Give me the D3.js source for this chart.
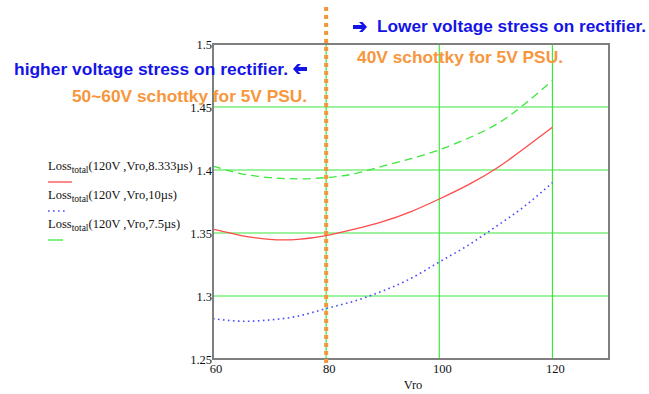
<!DOCTYPE html>
<html>
<head>
<meta charset="utf-8">
<script src="https://cdn.jsdelivr.net/npm/d3@7"></script>
<style>
  html, body { margin: 0; padding: 0; background: #fff; }
  svg { display: block; }
</style>
</head>
<body>
<svg id="chart" width="649" height="394"></svg>
<script>
// Total rectifier loss vs. reflected voltage Vro, for three switching periods
const vro = [60, 65, 70, 75, 80, 85, 90, 95, 100, 105, 110, 115, 120];
const loss8333 = [1.353, 1.348, 1.345, 1.345, 1.348, 1.353, 1.359, 1.367, 1.377, 1.388, 1.401, 1.417, 1.434];
const loss10   = [1.282, 1.280, 1.281, 1.284, 1.290, 1.296, 1.304, 1.314, 1.327, 1.340, 1.355, 1.371, 1.390];
const loss75   = [1.403, 1.397, 1.394, 1.393, 1.394, 1.397, 1.403, 1.409, 1.416, 1.425, 1.436, 1.452, 1.471];

const xTicks = [60, 80, 100, 120];
const yTicks = [1.25, 1.3, 1.35, 1.4, 1.45, 1.5];
const markerVro = 80;

const seriesNames = ["8.333µs", "10µs", "7.5µs"];

const svg = d3.select("#chart");
const plotL = 213, plotR = 609, plotT = 44, plotB = 359;

const x = d3.scaleLinear().domain([60, 130]).range([plotL, plotR]);
const y = d3.scaleLinear().domain([1.25, 1.5]).range([plotB, plotT]);

const gridColor = "#3ce83c";
const serif = "'Liberation Serif', 'Times New Roman', serif";
const sans = "'Liberation Sans', Arial, sans-serif";

// grid
svg.append("g").selectAll("line")
  .data(xTicks.filter(d => d > 60))
  .join("line")
  .attr("x1", d => x(d)).attr("x2", d => x(d))
  .attr("y1", plotT).attr("y2", plotB)
  .attr("stroke", gridColor).attr("stroke-width", 1.2);

svg.append("g").selectAll("line")
  .data(yTicks.filter(d => d > 1.25 && d < 1.5))
  .join("line")
  .attr("x1", plotL).attr("x2", plotR)
  .attr("y1", d => y(d)).attr("y2", d => y(d))
  .attr("stroke", gridColor).attr("stroke-width", 1.2);

// curves
const line = (vals) => d3.line()
  .x((d, i) => x(vro[i]))
  .y(d => y(d))
  .curve(d3.curveNatural)(vals);

const series = [
  { vals: loss8333, color: "#ff4a4a", dash: null, width: 1.3 },
  { vals: loss10,   color: "#4b4bff", dash: "1.6 3.4", width: 1.6 },
  { vals: loss75,   color: "#3ce83c", dash: "8 5", width: 1.3 }
];

svg.append("g").selectAll("path")
  .data(series)
  .join("path")
  .attr("d", d => line(d.vals))
  .attr("fill", "none")
  .attr("stroke", d => d.color)
  .attr("stroke-width", d => d.width)
  .attr("stroke-dasharray", d => d.dash);

// frame
svg.append("rect")
  .attr("x", plotL).attr("y", plotT)
  .attr("width", plotR - plotL).attr("height", plotB - plotT)
  .attr("fill", "none").attr("stroke", "#7f7f7f").attr("stroke-width", 2);

// axis labels
svg.append("g").selectAll("text")
  .data(yTicks)
  .join("text")
  .attr("x", plotL - 1)
  .attr("y", d => y(d) + 4.5)
  .attr("text-anchor", "end")
  .attr("font-family", serif).attr("font-size", 12.5)
  .attr("fill", "#111")
  .text(d => d);

svg.append("g").selectAll("text")
  .data(xTicks)
  .join("text")
  .attr("x", d => x(d) + 3)
  .attr("y", plotB + 14)
  .attr("text-anchor", "middle")
  .attr("font-family", serif).attr("font-size", 12.5)
  .attr("fill", "#111")
  .text(d => d);

svg.append("text")
  .attr("x", (plotL + plotR) / 2 + 2).attr("y", 389)
  .attr("text-anchor", "middle")
  .attr("font-family", serif).attr("font-size", 12.5)
  .attr("fill", "#111")
  .text("Vro");

// legend
const legend = svg.append("g");
const legendDash = [null, "1.6 3.4", null];
series.forEach((s, i) => {
  const by = 170 + i * 29;
  const t = legend.append("text")
    .attr("x", 48).attr("y", by)
    .attr("font-family", serif).attr("font-size", 12.5)
    .attr("fill", "#111");
  t.append("tspan").text("Loss");
  t.append("tspan").attr("font-size", 9.5).attr("dy", 3).text("total");
  t.append("tspan").attr("dy", -3).text("(120V ,Vro," + seriesNames[i] + ")");
  legend.append("line")
    .attr("x1", 48).attr("x2", [72, 66, 63][i])
    .attr("y1", by + 12).attr("y2", by + 12)
    .attr("stroke", s.color).attr("stroke-width", s.width)
    .attr("stroke-dasharray", legendDash[i]);
});

// 80 V boundary marker
svg.append("line")
  .attr("x1", x(markerVro)).attr("x2", x(markerVro))
  .attr("y1", 7).attr("y2", plotB + 4)
  .attr("stroke", "#f7963c").attr("stroke-width", 4)
  .attr("stroke-dasharray", "4 4");

// annotations
const blue = "#1414e6", orange = "#f7963c";
const note = (tx, ty, txt, color, len) => svg.append("text")
  .attr("x", tx).attr("y", ty)
  .attr("font-family", sans).attr("font-weight", "bold").attr("font-size", 17)
  .attr("fill", color)
  .attr("textLength", len).attr("lengthAdjust", "spacingAndGlyphs")
  .text(txt);

note(377, 32, "Lower voltage stress on rectifier.", blue, 269);
note(357, 63, "40V schottky for 5V PSU.", orange, 206);
note(14, 75, "higher voltage stress on rectifier.", blue, 274);
note(72, 102, "50~60V schottky for 5V PSU.", orange, 235);

// heavy arrows: shaft plus chevron head
const arrow = (cx, cy, dir) => {
  const p = d3.path();
  // shaft
  p.moveTo(cx - 7 * dir, cy - 2);
  p.lineTo(cx + 2 * dir, cy - 2);
  p.lineTo(cx - 1 * dir, cy - 5);
  p.lineTo(cx + 2.5 * dir, cy - 5);
  p.lineTo(cx + 7 * dir, cy);
  p.lineTo(cx + 2.5 * dir, cy + 5);
  p.lineTo(cx - 1 * dir, cy + 5);
  p.lineTo(cx + 2 * dir, cy + 2);
  p.lineTo(cx - 7 * dir, cy + 2);
  p.closePath();
  svg.append("path").attr("d", p.toString()).attr("fill", blue);
};
arrow(360, 27, 1);
arrow(300, 69, -1);
</script>
</body>
</html>
